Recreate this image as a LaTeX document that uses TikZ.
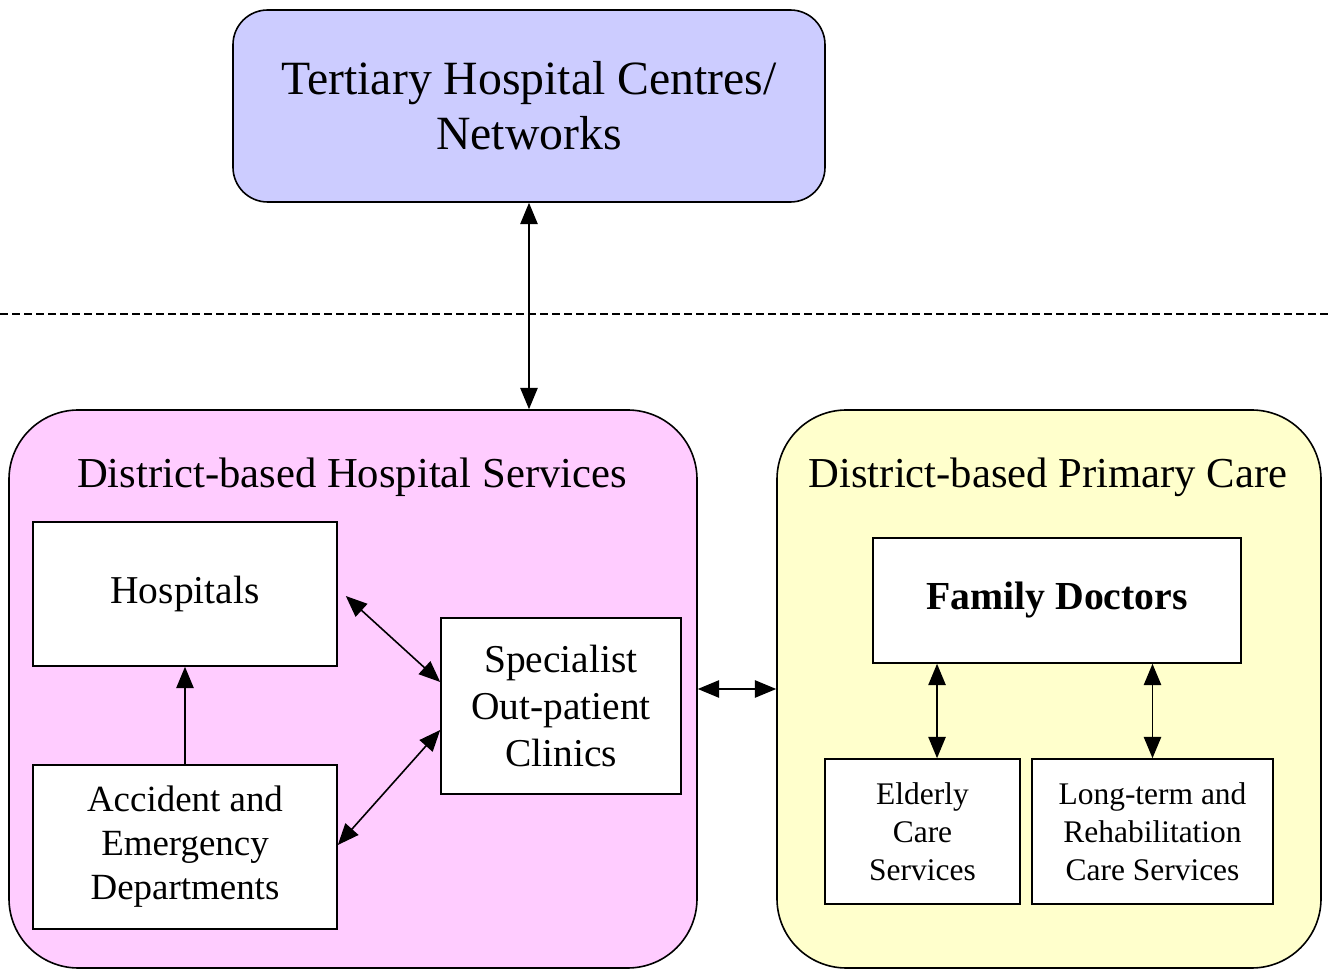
\documentclass[tikz,border=0pt]{standalone}
\usepackage{fontspec}
\setmainfont{Liberation Serif}
\usetikzlibrary{arrows.meta,calc}
\definecolor{tertfill}{RGB}{204,204,255}
\definecolor{pinkfill}{RGB}{255,204,255}
\definecolor{yellowfill}{RGB}{255,255,204}
\begin{document}
\begin{tikzpicture}[x=0.75pt,y=-0.75pt,
  big/.style={draw=black,line width=1.2pt,rounded corners=52pt,inner sep=0pt},
  box/.style={draw=black,line width=1.2pt,fill=white,inner sep=0pt,align=center},
  conn/.style={line width=1.2pt,{Triangle[length=16pt,width=13pt]}-{Triangle[length=16pt,width=13pt]}},
  oneway/.style={line width=1.2pt,-{Triangle[length=16pt,width=13pt]}}]
\useasboundingbox (0,0) rectangle (1329,969);
\fill[white] (0,0) rectangle (1329,969);
% dashed separator
\draw[line width=0.9pt,dash pattern=on 6pt off 3pt] (0,314) -- (1329,314);
% tertiary
\node[big,fill=tertfill,rounded corners=26pt,minimum width=444pt,minimum height=144pt,align=center,
  font=\fontsize{35.8}{41.5}\selectfont] (tert) at (529,106) {Tertiary Hospital Centres/\\Networks};
% district containers
\node[big,fill=pinkfill,minimum width=516pt,minimum height=418.5pt] (pink) at (353,689) {};
\node[big,fill=yellowfill,minimum width=408pt,minimum height=418.5pt] (yellow) at (1049,689) {};
\node[anchor=base,inner sep=0pt,font=\fontsize{32}{38}\selectfont] (pinktitle) at (352,488) {District-based Hospital Services};
\node[anchor=base,inner sep=0pt,font=\fontsize{32}{38}\selectfont] (yellowtitle) at (1048,488) {District-based Primary Care};
% hospital side
\node[box,minimum width=228pt,minimum height=108pt,font=\fontsize{29.6}{35}\selectfont] (hosp) at (185,594) {\raisebox{-3pt}{Hospitals}};
\node[box,minimum width=228pt,minimum height=123pt,font=\fontsize{27.7}{33}\selectfont] (ae) at (185,847) {Accident and\\Emergency\\Departments};
\node[box,minimum width=180pt,minimum height=132pt,font=\fontsize{29.6}{35}\selectfont] (spec) at (561,706) {Specialist\\Out-patient\\Clinics};
% primary care side
\node[box,minimum width=276pt,minimum height=93.75pt,font=\bfseries\fontsize{29.8}{35}\selectfont] (fd) at (1057,600.5) {\raisebox{-4pt}{Family Doctors}};
\node[box,minimum width=146.25pt,minimum height=108.75pt,font=\fontsize{23.6}{28.5}\selectfont] (eld) at (922.5,831.5) {Elderly\\Care\\Services};
\node[box,minimum width=180.75pt,minimum height=108.75pt,font=\fontsize{23.6}{28.5}\selectfont] (lt) at (1152.5,831.5) {Long-term and\\Rehabilitation\\Care Services};
% connectors
\draw[conn] (tert.south) -- (tert.south |- pink.north);
\draw[oneway] (ae.north) -- (hosp.south);
\draw[conn] ($(hosp.east)+(8,2)$) -- ($(spec.west)+(0,-24)$);
\draw[conn] ($(ae.east)+(0,-2)$) -- ($(spec.west)+(0,24)$);
\draw[conn] (pink.east) -- (yellow.west);
\draw[conn] ([xshift=10.9pt]eld.north) -- ([xshift=10.9pt]eld.north |- fd.south);
\draw[conn] (lt.north) -- (lt.north |- fd.south);
\end{tikzpicture}
\end{document}
